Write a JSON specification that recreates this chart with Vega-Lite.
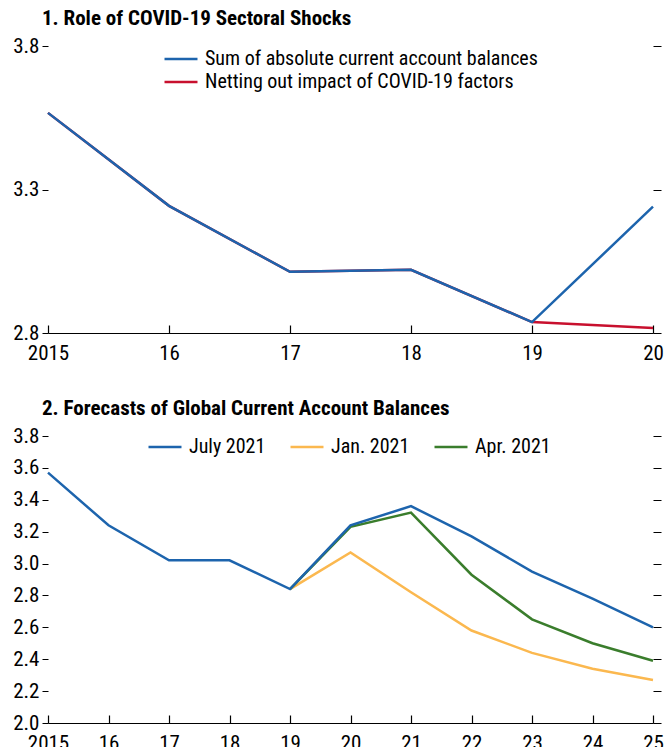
{
  "$schema": "https://vega.github.io/schema/vega-lite/v6.json",
  "background": "white",
  "padding": {"left": 10, "top": 8, "right": 6, "bottom": 0},
  "config": {
    "font": "Roboto Condensed, DejaVu Sans Condensed, Liberation Sans Narrow, Arial Narrow, Roboto, sans-serif",
    "view": {"stroke": null},
    "axis": {"labelFont": "Roboto Condensed, DejaVu Sans Condensed, Liberation Sans Narrow, Arial Narrow, Roboto, sans-serif", "labelFontSize": 21, "labelColor": "black", "tickColor": "black", "domainColor": "black", "grid": false, "title": null, "labelOverlap": false, "labelFlush": false},
    "title": {"font": "Roboto Condensed, DejaVu Sans Condensed, Liberation Sans Narrow, Arial Narrow, Roboto, sans-serif", "fontSize": 21, "fontWeight": "bold", "anchor": "start", "color": "black", "frame": "group"},
    "legend": {"labelFont": "Roboto Condensed, DejaVu Sans Condensed, Liberation Sans Narrow, Arial Narrow, Roboto, sans-serif", "labelFontSize": 20, "labelColor": "black", "labelLimit": 0, "symbolType": "M-2,0H2", "symbolSize": 272, "symbolStrokeWidth": 2.5, "labelOffset": 14, "rowPadding": 3, "columnPadding": 19, "title": null},
    "concat": {"spacing": 35}
  },
  "resolve": {"scale": {"color": "independent"}, "legend": {"color": "independent"}},
  "vconcat": [
    {
      "width": 605,
      "height": 287,
      "title": {"text": "1. Role of COVID-19 Sectoral Shocks", "dx": -6, "offset": 6},
      "data": {"values": [
        {"year": 2015, "value": 3.567, "series": "Netting out impact of COVID-19 factors"},
        {"year": 2016, "value": 3.243, "series": "Netting out impact of COVID-19 factors"},
        {"year": 2017, "value": 3.013, "series": "Netting out impact of COVID-19 factors"},
        {"year": 2018, "value": 3.02, "series": "Netting out impact of COVID-19 factors"},
        {"year": 2019, "value": 2.838, "series": "Netting out impact of COVID-19 factors"},
        {"year": 2020, "value": 2.817, "series": "Netting out impact of COVID-19 factors"},
        {"year": 2015, "value": 3.567, "series": "Sum of absolute current account balances"},
        {"year": 2016, "value": 3.243, "series": "Sum of absolute current account balances"},
        {"year": 2017, "value": 3.013, "series": "Sum of absolute current account balances"},
        {"year": 2018, "value": 3.02, "series": "Sum of absolute current account balances"},
        {"year": 2019, "value": 2.838, "series": "Sum of absolute current account balances"},
        {"year": 2020, "value": 3.24, "series": "Sum of absolute current account balances"}
      ]},
      "layer": [
        {
          "mark": {"type": "line", "strokeWidth": 2.5},
          "encoding": {
            "x": {"field": "year", "type": "quantitative", "scale": {"domain": [2015, 2020], "nice": false, "zero": false},
              "axis": {"values": [2015, 2016, 2017, 2018, 2019, 2020], "labelExpr": "datum.value == 2015 ? '2015' : substring(toString(datum.value), 2, 4)", "tickSize": -8, "labelPadding": 17, "domainWidth": 1.2, "tickWidth": 1.2}},
            "y": {"field": "value", "type": "quantitative", "scale": {"domain": [2.8, 3.8], "nice": false, "zero": false},
              "axis": {"values": [2.8, 3.3, 3.8], "format": ".1f", "domain": false, "tickSize": 6, "labelPadding": 3, "minExtent": 38, "maxExtent": 38}},
            "color": {"field": "series", "type": "nominal",
              "scale": {"domain": ["Sum of absolute current account balances", "Netting out impact of COVID-19 factors"], "range": ["#1d64ad", "#c8102e"]},
              "legend": {"orient": "none", "legendX": 123, "legendY": 3, "direction": "vertical"}}
          }
        },
        {
          "mark": {"type": "point", "opacity": 0},
          "encoding": {
            "x": {"field": "year", "type": "quantitative", "scale": {"domain": [2015, 2020], "nice": false, "zero": false}},
            "y": {"field": "value", "type": "quantitative", "scale": {"domain": [2.8, 3.8], "nice": false, "zero": false},
              "axis": {"orient": "right", "values": [2.8, 3.3, 3.8], "labels": false, "domain": false, "tickSize": 8}}
          }
        }
      ],
      "resolve": {"scale": {"y": "independent"}}
    },
    {
      "width": 605,
      "height": 287,
      "title": {"text": "2. Forecasts of Global Current Account Balances", "dx": -6, "offset": 6},
      "data": {"values": [
        {"year": 2019, "value": 2.84, "series": "Jan. 2021"},
        {"year": 2020, "value": 3.07, "series": "Jan. 2021"},
        {"year": 2021, "value": 2.82, "series": "Jan. 2021"},
        {"year": 2022, "value": 2.58, "series": "Jan. 2021"},
        {"year": 2023, "value": 2.44, "series": "Jan. 2021"},
        {"year": 2024, "value": 2.34, "series": "Jan. 2021"},
        {"year": 2025, "value": 2.27, "series": "Jan. 2021"},
        {"year": 2019, "value": 2.84, "series": "Apr. 2021"},
        {"year": 2020, "value": 3.23, "series": "Apr. 2021"},
        {"year": 2021, "value": 3.32, "series": "Apr. 2021"},
        {"year": 2022, "value": 2.93, "series": "Apr. 2021"},
        {"year": 2023, "value": 2.65, "series": "Apr. 2021"},
        {"year": 2024, "value": 2.5, "series": "Apr. 2021"},
        {"year": 2025, "value": 2.39, "series": "Apr. 2021"},
        {"year": 2015, "value": 3.57, "series": "July 2021"},
        {"year": 2016, "value": 3.24, "series": "July 2021"},
        {"year": 2017, "value": 3.02, "series": "July 2021"},
        {"year": 2018, "value": 3.02, "series": "July 2021"},
        {"year": 2019, "value": 2.84, "series": "July 2021"},
        {"year": 2020, "value": 3.24, "series": "July 2021"},
        {"year": 2021, "value": 3.36, "series": "July 2021"},
        {"year": 2022, "value": 3.17, "series": "July 2021"},
        {"year": 2023, "value": 2.95, "series": "July 2021"},
        {"year": 2024, "value": 2.78, "series": "July 2021"},
        {"year": 2025, "value": 2.6, "series": "July 2021"}
      ]},
      "layer": [
        {
          "mark": {"type": "line", "strokeWidth": 2.5},
          "encoding": {
            "x": {"field": "year", "type": "quantitative", "scale": {"domain": [2015, 2025], "nice": false, "zero": false},
              "axis": {"values": [2015, 2016, 2017, 2018, 2019, 2020, 2021, 2022, 2023, 2024, 2025], "labelExpr": "datum.value == 2015 ? '2015' : substring(toString(datum.value), 2, 4)", "tickSize": -8, "labelPadding": 17, "domainWidth": 1.2, "tickWidth": 1.2}},
            "y": {"field": "value", "type": "quantitative", "scale": {"domain": [2.0, 3.8], "nice": false, "zero": false},
              "axis": {"values": [2.0, 2.2, 2.4, 2.6, 2.8, 3.0, 3.2, 3.4, 3.6, 3.8], "format": ".1f", "domain": false, "tickSize": 6, "labelPadding": 3, "minExtent": 38, "maxExtent": 38}},
            "color": {"field": "series", "type": "nominal",
              "scale": {"domain": ["July 2021", "Jan. 2021", "Apr. 2021"], "range": ["#1d64ad", "#fbb84f", "#3a7d2c"]},
              "legend": {"orient": "none", "legendX": 107, "legendY": 1, "direction": "horizontal"}}
          }
        },
        {
          "mark": {"type": "point", "opacity": 0},
          "encoding": {
            "x": {"field": "year", "type": "quantitative", "scale": {"domain": [2015, 2025], "nice": false, "zero": false}},
            "y": {"field": "value", "type": "quantitative", "scale": {"domain": [2.0, 3.8], "nice": false, "zero": false},
              "axis": {"orient": "right", "values": [2.0, 2.2, 2.4, 2.6, 2.8, 3.0, 3.2, 3.4, 3.6, 3.8], "labels": false, "domain": false, "tickSize": 8}}
          }
        }
      ],
      "resolve": {"scale": {"y": "independent"}}
    }
  ]
}
